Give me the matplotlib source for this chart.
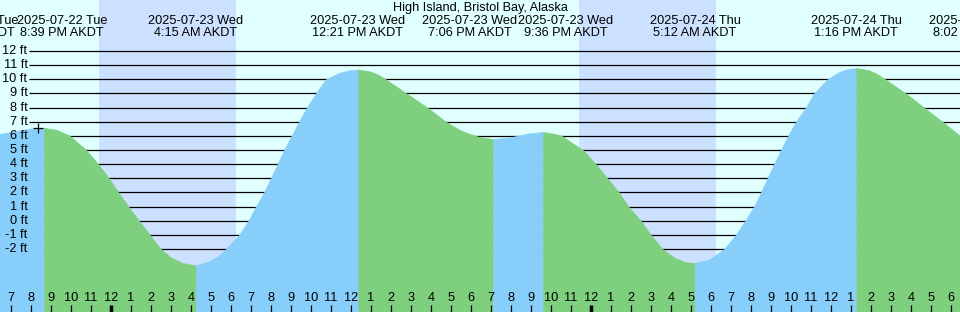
import numpy as np
import matplotlib
matplotlib.use("Agg")
import matplotlib.pyplot as plt
from matplotlib.transforms import blended_transform_factory

# Tide curve, hours after 2025-07-23 00:00 AKDT, height in feet
tide_hours = [
    -5.6, -4.85, -4.1, -3.35, -2.7, -2.05, -1.65, -1.24, -0.64, -0.1,
    0.37, 0.87, 1.4, 1.94, 2.49, 3.0, 3.6, 4.25, 4.9, 5.4,
    5.74, 6.4, 6.87, 7.24, 7.65, 7.99, 8.32, 8.65, 9.02, 9.4,
    9.79, 10.24, 10.74, 11.4, 11.9, 12.35, 12.99, 13.39, 13.74, 14.77,
    15.82, 16.74, 17.4, 17.9, 18.4, 19.1, 19.9, 20.4, 20.9, 21.6,
    22.15, 22.54, 23.05, 23.6, 24.24, 24.82, 25.4, 25.87, 26.49, 26.99,
    27.57, 28.15, 28.7, 29.2, 29.9, 30.65, 31.24, 31.7, 32.15, 32.49,
    32.82, 33.15, 33.49, 33.85, 34.24, 34.74, 35.15, 35.82, 36.4, 36.8,
    37.267, 37.9, 38.3, 38.7, 39.74, 40.65, 41.57, 42.45,
]
tide_ft = [
    6.13, 6.33, 6.50, 6.57, 6.42, 6.0, 5.5, 5.0, 4.0, 3.0,
    2.0, 1.0, 0.0, -1.0, -2.0, -2.6, -3.0, -3.16, -2.86, -2.47,
    -2.0, -1.0, 0.0, 1.0, 2.0, 3.0, 4.0, 5.0, 6.0, 7.0,
    8.0, 9.0, 10.0, 10.45, 10.63, 10.69, 10.54, 10.30, 10.0, 9.0,
    8.0, 7.0, 6.45, 6.15, 5.93, 5.77, 5.88, 6.03, 6.18, 6.27,
    6.15, 6.0, 5.5, 5.0, 4.0, 3.0, 2.0, 1.0, 0.0, -1.0,
    -2.0, -2.6, -2.92, -2.99, -2.75, -2.0, -1.0, 0.0, 1.0, 2.0,
    3.0, 4.0, 5.0, 6.0, 7.0, 8.0, 9.0, 10.0, 10.51, 10.71,
    10.79, 10.64, 10.38, 10.0, 9.0, 8.0, 7.0, 6.0,
]

# High / low tide events
event_hours = [-7.8, -3.35, 4.25, 12.35, 19.1, 21.6, 29.2, 37.267, 44.033]
event_kind = ["low", "high", "low", "high", "low", "high", "low", "high", "low"]
event_dates = ["2025-07-22 Tue", "2025-07-22 Tue", "2025-07-23 Wed", "2025-07-23 Wed",
               "2025-07-23 Wed", "2025-07-23 Wed", "2025-07-24 Thu", "2025-07-24 Thu",
               "2025-07-24 Thu"]
event_times = ["4:12 PM AKDT", "8:39 PM AKDT", "4:15 AM AKDT", "12:21 PM AKDT",
               "7:06 PM AKDT", "9:36 PM AKDT", "5:12 AM AKDT", "1:16 PM AKDT",
               "8:02 PM AKDT"]

# Darkness (sunset, sunrise) in the same hours
sunsets = [-0.617, 23.383]
sunrises = [6.25, 30.25]

ft_levels = list(range(-2, 13))
now_hour, now_ft = -3.665, 6.53

title = "High Island, Bristol Bay, Alaska"

day_color = "#E0FFFF"
night_color = "#CCE0FF"
rise_color = "#87CEFA"
fall_color = "#7ECF7E"

W, H = 960, 312
fig = plt.figure(figsize=(W / 100, H / 100), dpi=100)
ax = fig.add_axes([0, 0, 1, 1])
ax.set_xlim(-5.55, 42.45)
ax.set_ylim(-6.455, 15.6)
ax.axis("off")
plt.rcParams["font.family"] = ["Liberation Sans", "DejaVu Sans"]

fs = 9.2
tx_fig = blended_transform_factory(ax.transData, fig.transFigure)
ty_data = blended_transform_factory(ax.transAxes, ax.transData)

def ypix(p):
    # pixel row from the top -> figure fraction
    return 1 - p / H

# background: day and night
ax.axvspan(-10, 50, color=day_color, lw=0, zorder=0)
for s, r in zip(sunsets, sunrises):
    ax.axvspan(s, r, color=night_color, lw=0, zorder=0.5)

# foot lines
ax.hlines(ft_levels, (29 - 111) / 20, 50, color="black", lw=0.9, zorder=1)

# tide fill, blue while rising and green while falling
t = np.array(tide_hours)
h = np.array(tide_ft)
cuts = [0] + [int(np.argmin(np.abs(t - e))) for e in event_hours if t[0] < e < t[-1]] + [len(t) - 1]
for a, b in zip(cuts[:-1], cuts[1:]):
    nxt = next(k for k, e in zip(event_kind, event_hours) if e > t[a] + 1e-6)
    col = rise_color if nxt == "high" else fall_color
    ax.fill_between(t[a:b + 1], h[a:b + 1], -10, color=col, lw=0.4, ec=col, zorder=2)

# foot labels
for lv in ft_levels:
    ax.text(27.5 / W, lv, f"{lv} ft", transform=ty_data, ha="right", va="center",
            fontsize=fs, zorder=3)

# now marker
ax.plot(now_hour, now_ft, marker="+", color="black", ms=7, mew=0.9, zorder=4)

# title and event labels
fig.text(0.5, ypix(7.5), title, ha="center", va="center", fontsize=fs)
label_shift = [0.9, 0.9, 0, 0, -1.15, 1.15, 0, 0, -0.85]
for e, d, tm, sh in zip(event_hours, event_dates, event_times, label_shift):
    ax.text(e + sh, ypix(20.5), d, transform=tx_fig, ha="center", va="center", fontsize=fs, zorder=5)
    ax.text(e + sh, ypix(32.5), tm, transform=tx_fig, ha="center", va="center", fontsize=fs, zorder=5)

# hour ticks along the bottom
for hr in range(-5, 43):
    clock = hr % 12 or 12
    ax.text(hr, ypix(298), str(clock), transform=tx_fig, ha="center", va="center",
            fontsize=fs, zorder=5)
    ax.vlines(hr, ypix(312), ypix(304.5), transform=tx_fig, color="black",
              lw=2.5 if hr % 24 == 0 else 0.9, zorder=5)

fig.savefig("out.png", dpi=100)
